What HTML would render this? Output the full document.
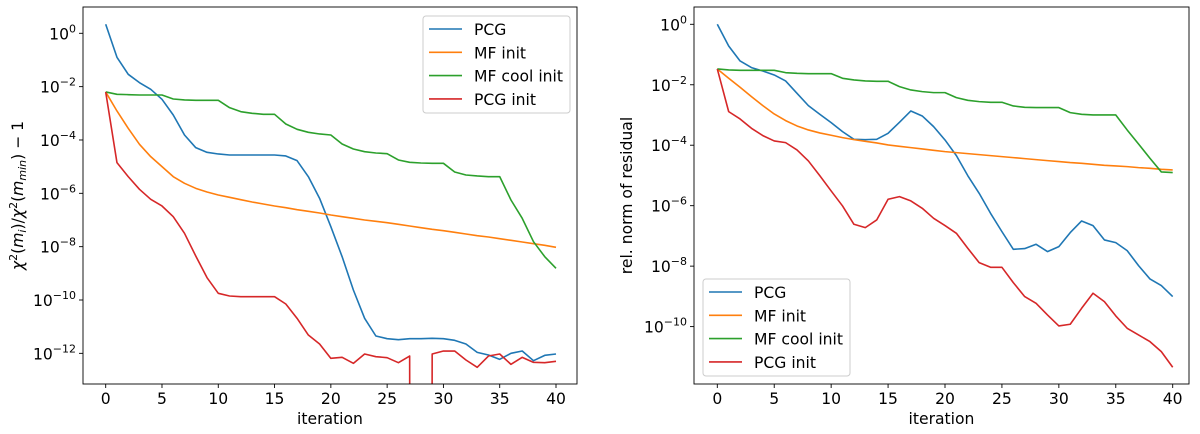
<!DOCTYPE html>
<html><head><meta charset="utf-8"><style>
html,body{margin:0;padding:0;background:#fff;width:1200px;height:434px;overflow:hidden;}
svg{display:block;font-family:"DejaVu Sans","Liberation Sans",sans-serif;}
</style></head><body>
<svg id="chart" width="1200" height="434" viewBox="0 0 1200 434" xmlns="http://www.w3.org/2000/svg"></svg>
<script>
const iterations = Array.from({length:41},(_,i)=>i);
const xTicks = [0,5,10,15,20,25,30,35,40];
const seriesNames = ["PCG","MF init","MF cool init","PCG init"];
const colors = ["#1f77b4","#ff7f0e","#2ca02c","#d62728"];
// left panel, log10 values
const leftPCG = [0.338,-0.9,-1.538,-1.85,-2.1,-2.475,-3.063,-3.813,-4.288,-4.463,-4.525,-4.563,-4.563,-4.563,-4.563,-4.563,-4.6,-4.775,-5.375,-6.188,-7.25,-8.375,-9.625,-10.688,-11.35,-11.45,-11.488,-11.45,-11.45,-11.438,-11.45,-11.513,-11.65,-11.963,-12.063,-12.225,-12,-11.913,-12.275,-12.075,-12.025];
const leftMF = [-2.2,-2.913,-3.563,-4.163,-4.625,-5,-5.375,-5.625,-5.813,-5.95,-6.063,-6.15,-6.238,-6.325,-6.4,-6.475,-6.538,-6.613,-6.675,-6.738,-6.813,-6.875,-6.938,-7,-7.05,-7.1,-7.163,-7.225,-7.288,-7.35,-7.4,-7.463,-7.525,-7.588,-7.638,-7.7,-7.763,-7.825,-7.888,-7.95,-8.025];
const leftMFcool = [-2.2,-2.288,-2.3,-2.313,-2.313,-2.313,-2.463,-2.5,-2.513,-2.513,-2.513,-2.788,-2.938,-3,-3.038,-3.038,-3.4,-3.6,-3.713,-3.775,-3.813,-4.15,-4.338,-4.438,-4.488,-4.513,-4.75,-4.838,-4.863,-4.875,-4.875,-5.2,-5.313,-5.35,-5.375,-5.375,-6.25,-6.938,-7.813,-8.375,-8.813];
const leftPCGinit = [-2.2,-4.85,-5.375,-5.85,-6.225,-6.475,-6.875,-7.5,-8.35,-9.163,-9.75,-9.85,-9.875,-9.875,-9.875,-9.875,-10.15,-10.688,-11.313,-11.65,-12.188,-12.15,-12.375,-12.025,-12.125,-12.163,-12.35,-12.1,-300,-12.025,-11.913,-11.913,-12.25,-12.525,-12.1,-12.025,-12.413,-12.15,-12.338,-12.35,-12.3];
const leftYTicks = [0,-2,-4,-6,-8,-10,-12];
// right panel, log10 values
const rightPCG = [0,-0.717,-1.213,-1.433,-1.544,-1.676,-1.874,-2.282,-2.69,-2.977,-3.253,-3.55,-3.804,-3.815,-3.804,-3.605,-3.241,-2.867,-3.032,-3.385,-3.826,-4.344,-5.006,-5.59,-6.251,-6.858,-7.442,-7.42,-7.277,-7.519,-7.354,-6.891,-6.505,-6.659,-7.133,-7.222,-7.486,-7.982,-8.423,-8.644,-9.008];
const rightMF = [-1.477,-1.786,-2.084,-2.393,-2.69,-2.966,-3.186,-3.363,-3.495,-3.594,-3.671,-3.749,-3.815,-3.87,-3.925,-3.991,-4.035,-4.079,-4.123,-4.168,-4.212,-4.245,-4.278,-4.311,-4.344,-4.377,-4.41,-4.443,-4.476,-4.509,-4.542,-4.575,-4.598,-4.631,-4.664,-4.686,-4.708,-4.741,-4.763,-4.796,-4.818];
const rightMFcool = [-1.477,-1.51,-1.521,-1.521,-1.521,-1.521,-1.599,-1.621,-1.632,-1.632,-1.632,-1.786,-1.841,-1.874,-1.885,-1.885,-2.062,-2.172,-2.227,-2.26,-2.26,-2.426,-2.514,-2.558,-2.58,-2.58,-2.701,-2.745,-2.756,-2.756,-2.756,-2.922,-2.977,-2.999,-2.999,-2.999,-3.495,-3.958,-4.432,-4.884,-4.906];
const rightPCGinit = [-1.477,-2.889,-3.131,-3.44,-3.682,-3.859,-3.914,-4.157,-4.52,-5.006,-5.513,-6.009,-6.615,-6.726,-6.472,-5.788,-5.7,-5.843,-6.086,-6.417,-6.659,-6.913,-7.409,-7.883,-8.038,-8.038,-8.545,-9.008,-9.228,-9.614,-9.978,-9.923,-9.394,-8.897,-9.173,-9.647,-10.055,-10.276,-10.496,-10.827,-11.345];
const rightYTicks = [0,-2,-4,-6,-8,-10];

const FS=15.6, FSS=11;
const NS="http://www.w3.org/2000/svg";
const svg=document.getElementById('chart');
function mk(tag,attrs,parent){const e=document.createElementNS(NS,tag);for(const k in attrs)e.setAttribute(k,attrs[k]);(parent||svg).appendChild(e);return e;}

function panel(cfg){
  const {L,T,R,B,x0px,x40px,y0px,pxDec,series,yTicks,ylabel,legend,id}=cfg;
  const xs=v=>x0px+(x40px-x0px)*v/40;
  const ys=v=>y0px-v*pxDec;
  const g=mk('g',{});
  
  
  series.forEach((s,si)=>{
    const pts=s.map((v,i)=>[xs(iterations[i]),ys(v)]);
    let d='', pen=false;
    for(let i=0;i<pts.length;i++){
      const [x,y]=pts[i];
      const inside=y<=B;
      if(i===0){ if(inside){d+='M'+x.toFixed(2)+','+y.toFixed(2);pen=true;} continue; }
      const [px,py]=pts[i-1];
      const pin=py<=B;
      if(pin&&inside){ d+='L'+x.toFixed(2)+','+y.toFixed(2); }
      else if(pin&&!inside){ const xi=px+(x-px)*(B-py)/(y-py); d+='L'+xi.toFixed(2)+','+B; }
      else if(!pin&&inside){ const xi=px+(x-px)*(B-py)/(y-py); d+='M'+xi.toFixed(2)+','+B+'L'+x.toFixed(2)+','+y.toFixed(2); }
    }
    const p=mk('path',{d:d,fill:'none',stroke:colors[si],'stroke-width':1.6,'stroke-linejoin':'round'},g);
    
    
  });
  const fr=mk('rect',{x:L,y:T,width:R-L,height:B-T,fill:'none',stroke:'#000','stroke-width':0.9},g);
  
  
  xTicks.forEach(t=>{
    const x=xs(t);
    mk('line',{x1:x,x2:x,y1:B,y2:B+4,stroke:'#000','stroke-width':0.9},g);
    const tx=mk('text',{x:x,y:B+20,'text-anchor':'middle','font-size':FS,fill:'#000'},g);
    tx.textContent=t;
    
    
  });
  yTicks.forEach(t=>{
    const y=ys(t);
    mk('line',{x1:L-4,x2:L,y1:y,y2:y,stroke:'#000','stroke-width':0.9},g);
    const tx=mk('text',{x:L-7,y:y+6,'text-anchor':'end','font-size':FS,fill:'#000'},g);
    
    
    const a=mk('tspan',{},tx);a.textContent='10';
    const b=mk('tspan',{'font-size':FSS,dy:-7},tx);b.textContent=(t===0?'0':'\u2212'+(-t));
  });
  const xl=mk('text',{x:(L+R)/2,y:424,'text-anchor':'middle','font-size':FS,fill:'#000'},g);
  xl.textContent='iteration';
  
  
  ylabel(g,(T+B)/2);
  const lg=mk('g',{},g);
  
  
  mk('rect',{x:legend.x,y:legend.y,width:147,height:97,rx:3,fill:'#fff','fill-opacity':0.8,stroke:'#ccc','stroke-width':1},lg);
  seriesNames.forEach((n,i)=>{
    const y=legend.y+13+i*23.3;
    const e=mk('g',{},lg);
    
    
    mk('line',{x1:legend.x+6,x2:legend.x+39,y1:y,y2:y,stroke:colors[i],'stroke-width':1.6},e);
    const t=mk('text',{x:legend.x+51,y:y+6,'font-size':FS,fill:'#000'},e);t.textContent=n;
  });
}

panel({id:'left',L:83,T:7,R:577,B:384,x0px:105.7,x40px:556,y0px:33.3,pxDec:26.67,
  series:[leftPCG,leftMF,leftMFcool,leftPCGinit],yTicks:leftYTicks,legend:{x:423,y:16},
  ylabel:(g,cy)=>{
    const t=mk('text',{transform:'translate(23,'+cy+') rotate(-90)','text-anchor':'middle','font-size':FS,fill:'#000'},g);
    
    
    t.innerHTML='<tspan font-style="italic">χ</tspan><tspan font-size="11" dy="-6">2</tspan><tspan dy="6">(</tspan><tspan font-style="italic">m</tspan><tspan font-size="11" font-style="italic" dy="3">i</tspan><tspan dy="-3">)/</tspan><tspan font-style="italic">χ</tspan><tspan font-size="11" dy="-6">2</tspan><tspan dy="6">(</tspan><tspan font-style="italic">m</tspan><tspan font-size="11" font-style="italic" dy="3">min</tspan><tspan dy="-3">) − 1</tspan>';
  }});
panel({id:'right',L:694,T:7,R:1189,B:384,x0px:717.3,x40px:1172.7,y0px:24.3,pxDec:30.23,
  series:[rightPCG,rightMF,rightMFcool,rightPCGinit],yTicks:rightYTicks,legend:{x:703,y:279},
  ylabel:(g,cy)=>{
    const t=mk('text',{transform:'translate(632,'+cy+') rotate(-90)','text-anchor':'middle','font-size':FS,fill:'#000'},g);
    t.textContent='rel. norm of residual';
    
    
  }});
</script>
</body></html>
